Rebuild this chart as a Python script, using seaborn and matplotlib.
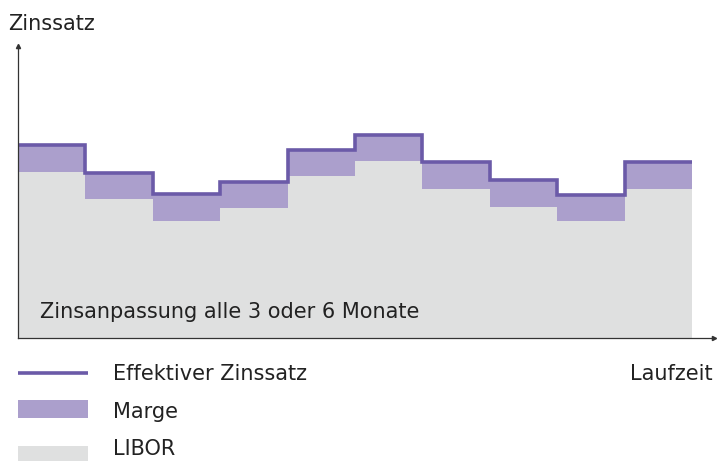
import numpy as np
import pandas as pd
import matplotlib
matplotlib.use("Agg")
import matplotlib.pyplot as plt
import seaborn as sns
from matplotlib.lines import Line2D
from matplotlib.patches import Rectangle

# Reference rate per adjustment period and the fixed margin on top of it
periods = ["P1", "P2", "P3", "P4", "P5", "P6", "P7", "P8", "P9", "P10"]
libor = [5.7, 4.75, 4.0, 4.45, 5.55, 6.05, 5.1, 4.5, 4.0, 5.1]
marge = [0.9, 0.9, 0.92, 0.9, 0.9, 0.9, 0.92, 0.9, 0.9, 0.92]

legend_labels = ["Effektiver Zinssatz", "Marge", "LIBOR"]
y_label = "Zinssatz"
x_label = "Laufzeit"
note = "Zinsanpassung alle 3 oder 6 Monate"

line_color = "#6b5aa8"
marge_color = "#ab9fcc"
libor_color = "#dfe0e0"
text_color = "#222222"

sns.set_theme(style="white")
plt.rcParams["font.family"] = ["DejaVu Sans"]

W, H = 718, 461
fig = plt.figure(figsize=(W / 100, H / 100), dpi=100)
fig.patch.set_facecolor("white")


def fx(px):
    return px / W


def fy(py):
    return 1 - py / H


ax = fig.add_axes([fx(18), fy(338), fx(696), 292 / H])
ax.set_facecolor("white")

# step edges: each period occupies one unit on the time axis
edges = np.arange(len(periods) + 1)
libor_steps = np.array(libor + [libor[-1]])
eff = [l + m for l, m in zip(libor, marge)]
eff_steps = np.array(eff + [eff[-1]])

ax.fill_between(edges, 0, libor_steps, step="post", color=libor_color, lw=0, zorder=1)
ax.fill_between(edges, libor_steps, eff_steps, step="post", color=marge_color, lw=0, zorder=1)

df = pd.DataFrame({"t": edges, "zins": eff_steps})
sns.lineplot(data=df, x="t", y="zins", drawstyle="steps-post", color=line_color,
             lw=2.6, ax=ax, zorder=3, solid_joinstyle="miter", solid_capstyle="butt")

ax.set_xlim(0, 10 * 696 / 674)
ax.set_ylim(0, 10)
ax.set_xticks([])
ax.set_yticks([])
ax.set_xlabel("")
ax.set_ylabel("")
for side in ["top", "right"]:
    ax.spines[side].set_visible(False)
for side in ["left", "bottom"]:
    ax.spines[side].set_color("#333333")
    ax.spines[side].set_linewidth(0.9)
    ax.spines[side].set_zorder(4)

# small arrowheads at the axis ends
ax.plot([1], [0], marker=">", ms=3, color="#333333", transform=ax.transAxes, clip_on=False)
ax.plot([0], [1], marker="^", ms=3, color="#333333", transform=ax.transAxes, clip_on=False)

fs = 15
fig.text(fx(8), fy(30), y_label, fontsize=fs, color=text_color, va="baseline", ha="left")
fig.text(fx(713), fy(380), x_label, fontsize=fs, color=text_color, va="baseline", ha="right")
fig.text(fx(40), fy(318), note, fontsize=fs, color=text_color, va="baseline", ha="left")

# legend drawn in figure pixel positions
fig.add_artist(Line2D([fx(18), fx(88)], [fy(372.5), fy(372.5)], color=line_color, lw=2.6,
                      solid_capstyle="butt"))
fig.add_artist(Rectangle((fx(18), fy(418)), fx(70), 18 / H, color=marge_color, lw=0))
fig.add_artist(Rectangle((fx(18), fy(461)), fx(70), 15 / H, color=libor_color, lw=0))
for label, base in zip(legend_labels, [380, 418, 455]):
    fig.text(fx(113), fy(base), label, fontsize=fs, color=text_color, va="baseline", ha="left")

fig.savefig("out.png", dpi=100)
